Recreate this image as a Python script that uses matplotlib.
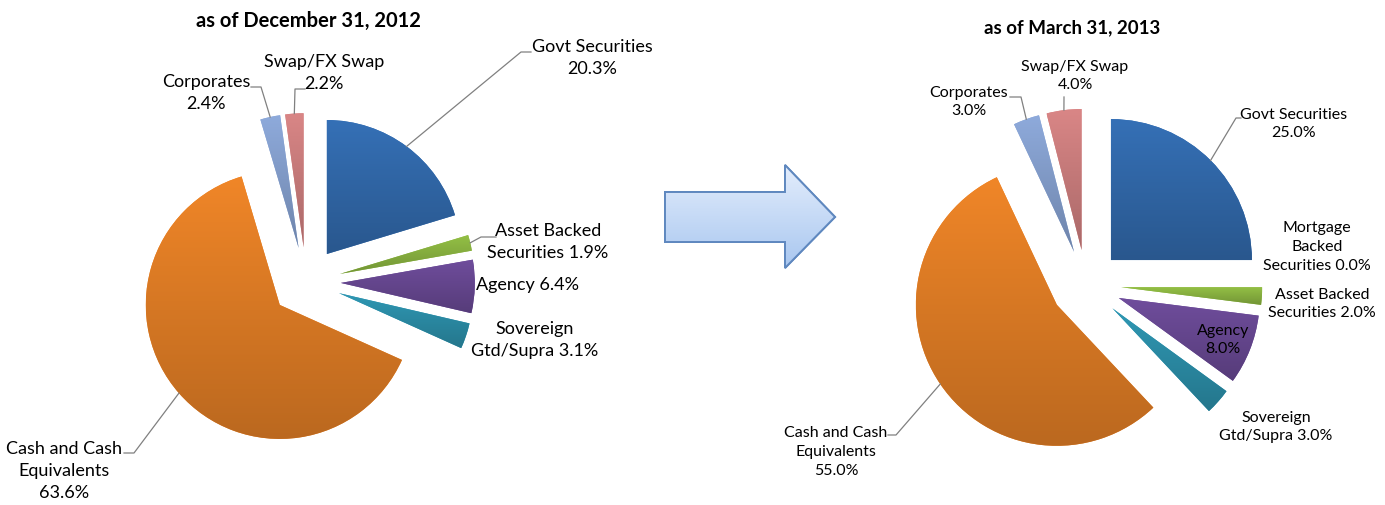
import numpy as np
import matplotlib
matplotlib.use("Agg")
import matplotlib.pyplot as plt
from matplotlib.colors import to_rgb
from matplotlib.patches import Polygon

W, H = 1385, 505

# ---- data ----
cats_dec = ["Govt Securities", "Asset Backed Securities", "Agency",
            "Sovereign Gtd/Supra", "Cash and Cash Equivalents", "Corporates", "Swap/FX Swap"]
vals_dec = [20.3, 1.9, 6.4, 3.1, 63.6, 2.4, 2.2]
fmt_dec = ["Govt Securities\n{}", "Asset Backed\nSecurities {}", "Agency {}",
           "Sovereign\nGtd/Supra {}", "Cash and Cash\nEquivalents\n{}", "Corporates\n{}",
           "Swap/FX Swap\n{}"]

cats_mar = ["Govt Securities", "Mortgage Backed Securities", "Asset Backed Securities", "Agency",
            "Sovereign Gtd/Supra", "Cash and Cash Equivalents", "Corporates", "Swap/FX Swap"]
vals_mar = [25.0, 0.0, 2.0, 8.0, 3.0, 55.0, 3.0, 4.0]
fmt_mar = ["Govt Securities\n{}", "Mortgage\nBacked\nSecurities {}", "Asset Backed\nSecurities {}",
           "Agency\n{}", "Sovereign\nGtd/Supra {}", "Cash and Cash\nEquivalents\n{}",
           "Corporates\n{}", "Swap/FX Swap\n{}"]

colors = {
    "Govt Securities": "#3570b6",
    "Mortgage Backed Securities": "#b8423c",
    "Asset Backed Securities": "#93bf45",
    "Agency": "#6f4d9c",
    "Sovereign Gtd/Supra": "#2f98b4",
    "Cash and Cash Equivalents": "#f08628",
    "Corporates": "#8eaadb",
    "Swap/FX Swap": "#d98686",
}

# ---- layout (pixels) ----
pies = [
    dict(cats=cats_dec, vals=vals_dec, fmt=fmt_dec, cx=306, cy=282, r=134, explode=0.26,
         title="as of December 31, 2012", title_xy=(308, 21), fs=13, tfs=14.5, ls=1.5,
         labels={
             "Govt Securities": ((592, 58), [(521, 52), (531, 52)]),
             "Asset Backed Securities": ((548, 242), [(481, 237), (496, 237)]),
             "Agency": ((528, 285), None),
             "Sovereign Gtd/Supra": ((535, 340), None),
             "Cash and Cash Equivalents": ((64, 471), [(134, 453), (124, 453)]),
             "Corporates": ((206, 93), [(261, 87), (251, 87)]),
             "Swap/FX Swap": ((324, 73), [(295, 89), (305, 89)]),
         }),
    dict(cats=cats_mar, vals=vals_mar, fmt=fmt_mar, cx=1086, cy=285, r=141, explode=0.25,
         title="as of March 31, 2013", title_xy=(1072, 28), fs=11.5, tfs=13.5, ls=1.43,
         labels={
             "Govt Securities": ((1294, 124), [(1236, 118), (1241, 118)]),
             "Mortgage Backed Securities": ((1317, 247), None),
             "Asset Backed Securities": ((1322, 304), None),
             "Agency": ((1223, 340), None),
             "Sovereign Gtd/Supra": ((1276, 427), None),
             "Cash and Cash Equivalents": ((836, 452), [(896, 435), (888, 435)]),
             "Corporates": ((969, 102), [(1021, 97), (1010, 97)]),
             "Swap/FX Swap": ((1075, 76), [(1064, 97)]),
         }),
]

plt.rcParams["font.family"] = ["Lato", "DejaVu Sans"]
fig = plt.figure(figsize=(W / 100, H / 100), dpi=100)
fig.patch.set_facecolor("white")


def gradient_fill(ax, patch, color, dark=0.78):
    ext = patch.get_path().get_extents()
    c = np.array(to_rgb(color))
    t = np.linspace(0, 1, 64)[:, None]
    img = (c[None, :] * (1 - t * (1 - dark)))[:, None, :]
    im = ax.imshow(img, extent=(ext.x0, ext.x1, ext.y0, ext.y1), origin="upper",
                   aspect="auto", interpolation="bilinear", zorder=patch.get_zorder() + 0.1)
    im.set_clip_path(patch)


for p in pies:
    cx, cy, r = p["cx"], p["cy"], p["r"]
    ax = fig.add_axes([0, 0, 1, 1])
    ax.set_facecolor("none")
    wedges, _ = ax.pie(p["vals"], colors=[colors[c] for c in p["cats"]], startangle=90,
                       counterclock=False, explode=[p["explode"]] * len(p["vals"]),
                       wedgeprops=dict(linewidth=0))
    for w, c in zip(wedges, p["cats"]):
        gradient_fill(ax, w, colors[c])
    ax.set_aspect("auto")
    ax.set_xlim(-cx / r, (W - cx) / r)
    ax.set_ylim(-(H - cy) / r, cy / r)
    ax.axis("off")

    def to_data(px, py):
        return (px - cx) / r, (cy - py) / r

    for w, c, v, f in zip(wedges, p["cats"], p["vals"], p["fmt"]):
        (lx, ly), leader = p["labels"][c]
        fig.text(lx / W, 1 - ly / H, f.format(f"{v:.1f}%"), ha="center", va="center",
                 fontsize=p["fs"], color="black", linespacing=p["ls"])
        if leader:
            mid = np.deg2rad((w.theta1 + w.theta2) / 2)
            x0 = w.center[0] + w.r * np.cos(mid)
            y0 = w.center[1] + w.r * np.sin(mid)
            pts = [(x0, y0)] + [to_data(*q) for q in leader]
            xs, ys = zip(*pts)
            ax.plot(xs, ys, color="#808080", lw=0.9, zorder=5)

    fig.text(p["title_xy"][0] / W, 1 - p["title_xy"][1] / H, p["title"], ha="center",
             va="center", fontsize=p["tfs"], fontweight="bold")

# block arrow between the two charts
axa = fig.add_axes([0, 0, 1, 1])
axa.set_xlim(0, W)
axa.set_ylim(H, 0)
axa.axis("off")
arrow = Polygon([(665, 192), (785, 192), (785, 165), (835, 217), (785, 268), (785, 242), (665, 242)],
                closed=True, facecolor="#c5daf6", edgecolor="#5f88bf", lw=1.4, zorder=2)
axa.add_patch(arrow)
g = np.linspace(0, 1, 64)[:, None, None]
top, bot = np.array(to_rgb("#e3edfc")), np.array(to_rgb("#a9c7f0"))
img = top * (1 - g) + bot * g
im = axa.imshow(img, extent=(665, 835, 268, 165), aspect="auto", interpolation="bilinear", zorder=2.5)
im.set_clip_path(arrow)
axa.add_patch(Polygon(arrow.get_xy(), closed=True, facecolor="none", edgecolor="#5f88bf", lw=1.4, zorder=3))
axa.set_xlim(0, W)
axa.set_ylim(H, 0)

fig.savefig("out.png", dpi=100, facecolor="white")
